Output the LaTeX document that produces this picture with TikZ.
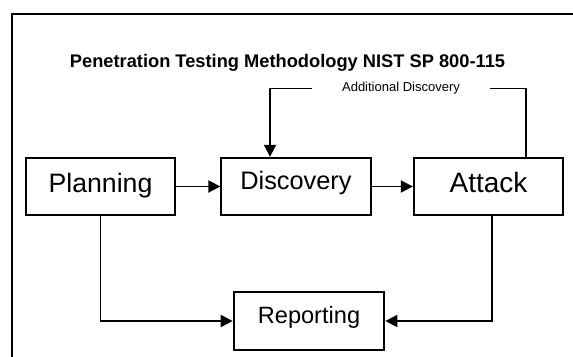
\documentclass[tikz,border=0pt]{standalone}
\usepackage{fontspec}
\setmainfont{Liberation Sans}
\usetikzlibrary{arrows.meta}

\tikzset{
  stage/.style={draw, line width=1.5pt, minimum width=112pt, minimum height=43pt,
    inner sep=0pt, text depth=5.5pt},
  flow/.style={-{Triangle[length=9pt,width=9pt]}, line width=1.4pt},
}

\begin{document}
\begin{tikzpicture}[x=0.75pt,y=-0.75pt]
\useasboundingbox (0,0) rectangle (573,356);
\clip (0,0) rectangle (573,356);
% outer frame, runs off the page on the right and bottom
\draw[line width=1.6pt] (12,14) rectangle (620,420);
\node[anchor=base,font=\bfseries\fontsize{13.7}{16}\selectfont] (title) at (287.5,68)
  {Penetration Testing Methodology NIST SP 800-115};
% the four stages
\node[stage,font=\fontsize{20}{24}\selectfont] (plan) at (100.5,186.5) {Planning};
\node[stage,font=\fontsize{19}{23}\selectfont,text depth=9.5pt] (disc) at (296,186.5) {Discovery};
\node[stage,font=\fontsize{21}{25}\selectfont] (att) at (488.5,186.5) {Attack};
\node[stage,font=\fontsize{17.7}{21}\selectfont,text depth=9pt,minimum width=113pt] (rep) at (309,321) {Reporting};
% main flow
\draw[flow] (plan) -- (disc);
\draw[flow] (disc) -- (att);
\draw[flow] (plan) |- (rep);
\draw[flow] ([xshift=2.6pt]att.south) |- (rep);
% feedback loop from attack back to discovery
\node[font=\fontsize{9.75}{12}\selectfont,inner xsep=22.5pt,inner ysep=0pt] (more) at (401,88.5)
  {Additional Discovery};
\draw[line width=1.4pt] ([xshift=28pt]att.north) |- (more.east);
\draw[flow] (more.west) -| ([xshift=-19.5pt]disc.north);
\end{tikzpicture}
\end{document}
